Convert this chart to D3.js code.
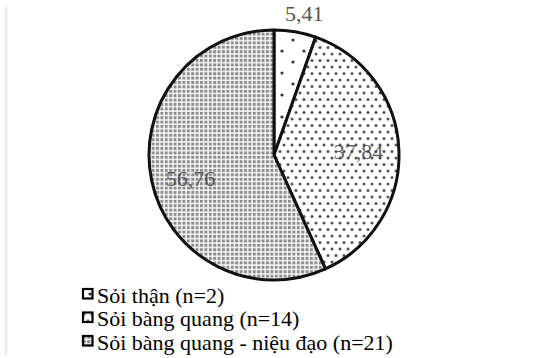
<!DOCTYPE html>
<html>
<head>
<meta charset="utf-8">
<script src="https://cdn.jsdelivr.net/npm/d3@7"></script>
<style>
  html, body { margin: 0; padding: 0; background: #fff; }
  svg { display: block; }
</style>
</head>
<body>
<svg id="chart" width="560" height="358"></svg>
<script>
// Stone location share (%) and patient counts
const categories = ["Sỏi thận", "Sỏi bàng quang", "Sỏi bàng quang - niệu đạo"];
const counts = [2, 14, 21];
const percents = [5.41, 37.84, 56.76];
const valueLabels = ["5,41", "37,84", "56,76"];

const svg = d3.select("#chart");
const cx = 274, cy = 155, R = 125;
const font = "'Liberation Serif', 'Times New Roman', Times, 'DejaVu Serif', serif";

// fill patterns: sparse dots, dense dots, small grid
const defs = svg.append("defs");

const p0 = defs.append("pattern").attr("id", "pat0")
  .attr("patternUnits", "userSpaceOnUse").attr("width", 22).attr("height", 22);
p0.append("rect").attr("width", 22).attr("height", 22).attr("fill", "#fff");
p0.append("circle").attr("cx", 8).attr("cy", 6).attr("r", 1.6).attr("fill", "#333");
p0.append("circle").attr("cx", 19).attr("cy", 17).attr("r", 1.6).attr("fill", "#333");

const p1 = defs.append("pattern").attr("id", "pat1")
  .attr("patternUnits", "userSpaceOnUse").attr("width", 8).attr("height", 13);
p1.append("rect").attr("width", 8).attr("height", 13).attr("fill", "#fff");
p1.append("circle").attr("cx", 2).attr("cy", 3).attr("r", 1.5).attr("fill", "#555");
p1.append("circle").attr("cx", 6).attr("cy", 9.5).attr("r", 1.5).attr("fill", "#555");

const p2 = defs.append("pattern").attr("id", "pat2")
  .attr("patternUnits", "userSpaceOnUse").attr("width", 4.4).attr("height", 4.4);
p2.append("rect").attr("width", 4.4).attr("height", 4.4).attr("fill", "#fafafa");
p2.append("rect").attr("x", 0.8).attr("y", 0.8).attr("width", 3).attr("height", 3).attr("fill", "#8c8c8c");

const fills = ["url(#pat0)", "url(#pat1)", "url(#pat2)"];

// faint frame line on the left
svg.append("line")
  .attr("x1", 6).attr("x2", 6).attr("y1", 6).attr("y2", 355)
  .attr("stroke", "#ececec").attr("stroke-width", 2.5);

const pie = d3.pie().sort(null).value(d => d)(percents);
const arc = d3.arc().innerRadius(0).outerRadius(R);
const labelArc = d3.arc().innerRadius(R * 0.7).outerRadius(R * 0.7);
const outerArc = d3.arc().innerRadius(R + 19).outerRadius(R + 19);

const g = svg.append("g").attr("transform", `translate(${cx},${cy})`);

g.selectAll("path.slice").data(pie).enter().append("path")
  .attr("class", "slice")
  .attr("d", arc)
  .attr("fill", (d, i) => fills[i])
  .attr("stroke", "#111")
  .attr("stroke-width", 3)
  .attr("stroke-linejoin", "round");

// value labels: the thin slice is labelled outside, the others inside
g.selectAll("text.val").data(pie).enter().append("text")
  .attr("class", "val")
  .attr("transform", (d, i) => {
    const c = i === 0 ? outerArc.centroid(d) : labelArc.centroid(d);
    return `translate(${c[0] + (i === 0 ? 6 : (i === 1 ? -3 : 2))},${c[1] + (i === 2 ? 8 : 3)})`;
  })
  .attr("text-anchor", "middle")
  .attr("dominant-baseline", "middle")
  .attr("font-family", font)
  .attr("font-size", 22)
  .attr("fill", (d, i) => i === 0 ? "#555" : "#3a3a3a")
  .attr("opacity", (d, i) => i === 0 ? 1 : 0.8)
  .text((d, i) => valueLabels[i]);

// legend
const legend = svg.append("g").attr("transform", "translate(82,288)");
const row = 23.5;
const items = legend.selectAll("g").data(categories).enter().append("g")
  .attr("transform", (d, i) => `translate(0,${i * row})`);
items.append("rect")
  .attr("x", 1).attr("y", 1).attr("width", 9.5).attr("height", 9.5)
  .attr("fill", (d, i) => fills[i])
  .attr("stroke", "#000").attr("stroke-width", 2.2);
items.append("text")
  .attr("x", 15).attr("y", 14.5)
  .attr("font-family", font)
  .attr("font-size", 22)
  .attr("fill", "#000")
  .text((d, i) => `${d} (n=${counts[i]})`);
</script>
</body>
</html>
